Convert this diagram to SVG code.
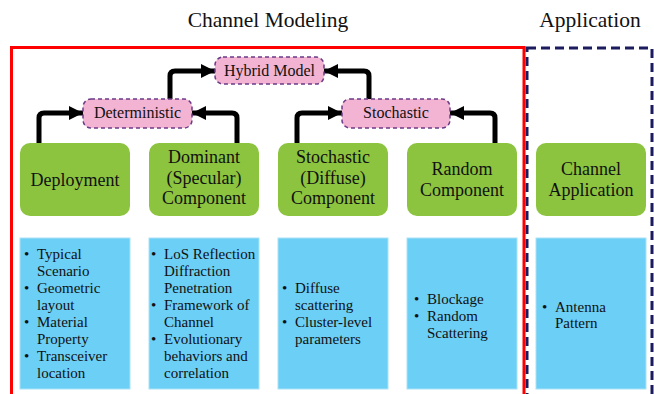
<svg xmlns="http://www.w3.org/2000/svg" width="654" height="394" viewBox="0 0 654 394">
  <style>
    text { font-family: "Liberation Serif", "Times New Roman", Tinos, "Nimbus Roman", "Noto Serif", "DejaVu Serif", FreeSerif, serif; fill: #111; }
    .title { font-size: 21.5px; text-anchor: middle; }
    .pink rect { fill: #f3b4d3; stroke: #6b3a86; stroke-width: 1.5; stroke-dasharray: 4 3; }
    .pink text { font-size: 16px; text-anchor: middle; }
    .green rect { fill: #8cc43f; }
    .green text { font-size: 18px; text-anchor: middle; }
    .blue rect { fill: #6ccff5; stroke: #a9e2f8; stroke-width: 1; }
    .blue text { font-size: 15px; }
    .conn path { fill: none; stroke: #000; stroke-width: 5; stroke-linejoin: round; }
  </style>
  <defs>
    <marker id="head" markerUnits="userSpaceOnUse" markerWidth="16" markerHeight="16" refX="14" refY="8" orient="auto">
      <path d="M0,1 L14,8 L0,15 Z" fill="#000"/>
    </marker>
  </defs>

  <rect width="654" height="394" fill="#fff"/>

  <!-- section frames -->
  <rect x="527" y="48" width="125" height="360" fill="none" stroke="#1b1b5e" stroke-width="3" stroke-dasharray="9 5"/>
  <rect x="11.5" y="47.5" width="512.5" height="360" fill="none" stroke="#ff0000" stroke-width="3"/>

  <text class="title" x="268" y="27">Channel Modeling</text>
  <text class="title" x="590" y="27">Application</text>

  <!-- connectors -->
  <g id="connectors" class="conn">
    <path d="M39,143 V118 Q39,113 44,113 H83" marker-end="url(#head)"/>
    <path d="M237,143 V118 Q237,113 232,113 H192" marker-end="url(#head)"/>
    <path d="M297,143 V118 Q297,113 302,113 H342" marker-end="url(#head)"/>
    <path d="M495,143 V118 Q495,113 490,113 H450" marker-end="url(#head)"/>
    <path d="M170,99 V76 Q170,71 175,71 H215" marker-end="url(#head)"/>
    <path d="M369,99 V76 Q369,71 364,71 H324" marker-end="url(#head)"/>
  </g>

  <!-- model categories -->
  <g id="hybrid" class="pink">
    <rect x="215" y="57" width="109" height="27" rx="8"/>
    <text x="269.5" y="76">Hybrid Model</text>
  </g>
  <g id="deterministic" class="pink">
    <rect x="83" y="99" width="109" height="29" rx="8"/>
    <text x="137.5" y="118">Deterministic</text>
  </g>
  <g id="stochastic" class="pink">
    <rect x="342" y="99" width="108" height="29" rx="8"/>
    <text x="396" y="118">Stochastic</text>
  </g>

  <!-- components -->
  <g id="deployment" class="green">
    <rect x="20" y="143" width="110" height="73" rx="10"/>
    <text x="75" y="186">Deployment</text>
  </g>
  <g id="dominant" class="green">
    <rect x="149" y="143" width="110" height="73" rx="10"/>
    <text x="204" y="163">Dominant</text>
    <text x="204" y="184">(Specular)</text>
    <text x="204" y="204">Component</text>
  </g>
  <g id="diffuse" class="green">
    <rect x="278" y="143" width="110" height="73" rx="10"/>
    <text x="333" y="163">Stochastic</text>
    <text x="333" y="184">(Diffuse)</text>
    <text x="333" y="204">Component</text>
  </g>
  <g id="random" class="green">
    <rect x="407" y="143" width="110" height="73" rx="10"/>
    <text x="462" y="175">Random</text>
    <text x="462" y="196">Component</text>
  </g>
  <g id="channel-app" class="green">
    <rect x="536" y="143" width="110" height="73" rx="10"/>
    <text x="591" y="175">Channel</text>
    <text x="591" y="196">Application</text>
  </g>

  <!-- details -->
  <g id="deployment-details" class="blue">
    <rect x="20" y="238" width="110" height="151"/>
    <text x="24" y="259">•</text><text x="37" y="259">Typical</text>
    <text x="37" y="276">Scenario</text>
    <text x="24" y="293">•</text><text x="37" y="293">Geometric</text>
    <text x="37" y="310">layout</text>
    <text x="24" y="327">•</text><text x="37" y="327">Material</text>
    <text x="37" y="344">Property</text>
    <text x="24" y="361">•</text><text x="37" y="361">Transceiver</text>
    <text x="37" y="378">location</text>
  </g>
  <g id="dominant-details" class="blue">
    <rect x="149" y="238" width="110" height="151"/>
    <text x="151" y="259">•</text><text x="164" y="259">LoS Reflection</text>
    <text x="164" y="276">Diffraction</text>
    <text x="164" y="293">Penetration</text>
    <text x="151" y="310">•</text><text x="164" y="310">Framework of</text>
    <text x="164" y="327">Channel</text>
    <text x="151" y="344">•</text><text x="164" y="344">Evolutionary</text>
    <text x="164" y="361">behaviors and</text>
    <text x="164" y="378">correlation</text>
  </g>
  <g id="diffuse-details" class="blue">
    <rect x="278" y="238" width="110" height="151"/>
    <text x="282" y="293">•</text><text x="295" y="293">Diffuse</text>
    <text x="295" y="310">scattering</text>
    <text x="282" y="327">•</text><text x="295" y="327">Cluster-level</text>
    <text x="295" y="344">parameters</text>
  </g>
  <g id="random-details" class="blue">
    <rect x="407" y="238" width="110" height="151"/>
    <text x="414" y="304">•</text><text x="427" y="304">Blockage</text>
    <text x="414" y="321">•</text><text x="427" y="321">Random</text>
    <text x="427" y="338">Scattering</text>
  </g>
  <g id="app-details" class="blue">
    <rect x="536" y="238" width="110" height="151"/>
    <text x="542" y="312">•</text><text x="555" y="312">Antenna</text>
    <text x="555" y="328">Pattern</text>
  </g>
</svg>
